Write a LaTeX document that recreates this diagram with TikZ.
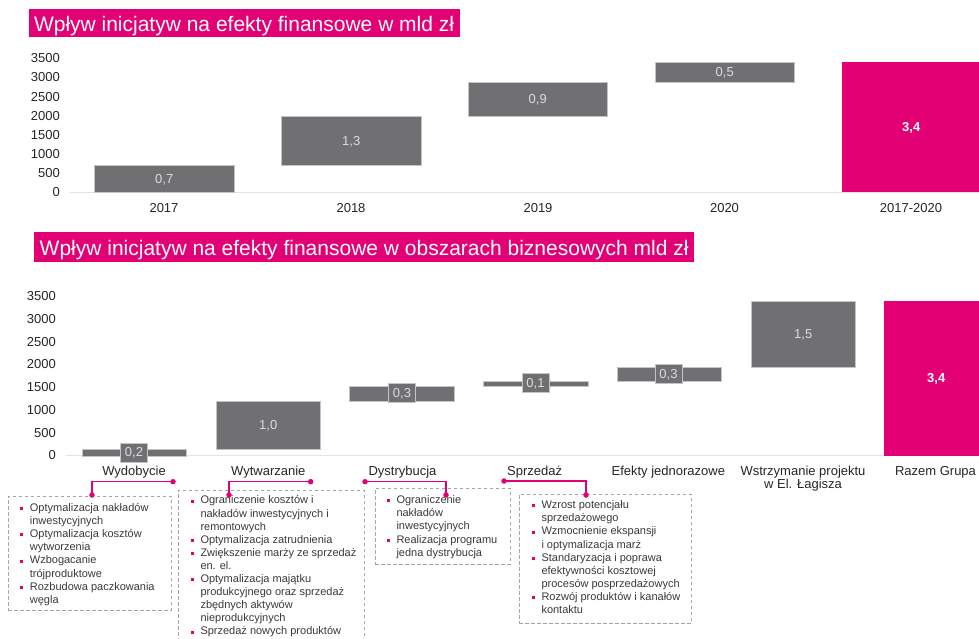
\documentclass[tikz,border=0pt]{standalone}
\usepackage{fontspec}
\setmainfont{Liberation Sans}

\definecolor{tpink}{HTML}{E20074}
\definecolor{bargray}{HTML}{707072}
\definecolor{baredge}{HTML}{C4C4C6}
\definecolor{valtext}{HTML}{DCDDE0}
\definecolor{axistext}{HTML}{262626}
\definecolor{axisgray}{HTML}{E4E4E4}
\definecolor{dashgray}{HTML}{A6A6A6}
\definecolor{notetext}{HTML}{3A3A3A}

% bullet and hanging indent for the note lists
\newcommand\nbul{\makebox[9.5pt][l]{\textcolor{tpink}{\rule[1.4pt]{3pt}{3pt}}}}
\newcommand\nind{\makebox[9.5pt]{}}

\tikzset{
  ttl/.style={fill=tpink, text=white, font=\fontsize{21}{24}\selectfont,
    inner xsep=5.5pt, inner ysep=0pt, anchor=base west},
  ylab/.style={font=\fontsize{13}{15}\selectfont, text=axistext, anchor=east,
    inner sep=0pt, text depth=0pt},
  catlab/.style={font=\fontsize{13}{13}\selectfont, text=axistext, anchor=base,
    inner sep=0pt, align=center},
  axisline/.style={draw=axisgray, line width=1pt},
  bar/.style={fill=bargray, draw=baredge, line width=0.5pt, anchor=north west,
    inner sep=0pt, font=\fontsize{13}{15}\selectfont, text=valtext, text depth=0pt},
  totbar/.style={fill=tpink, anchor=north west, inner sep=0pt,
    font=\fontsize{13}{15}\selectfont\bfseries, text=white, text depth=0pt},
  valbox/.style={fill=bargray, draw=baredge, line width=0.5pt, inner sep=0pt,
    minimum width=27pt, minimum height=19pt, font=\fontsize{13}{15}\selectfont,
    text=valtext, text depth=0pt},
  notebox/.style={draw=dashgray, dash pattern=on 3.5pt off 2.5pt, line width=0.7pt,
    anchor=north west, inner sep=0pt},
  notes/.style={font=\fontsize{11}{13.1}\selectfont, text=notetext, align=left,
    anchor=north west, inner sep=0pt},
  link/.style={draw=tpink, line width=1.1pt},
  linkdot/.style={circle, fill=tpink, inner sep=0pt, minimum size=5.5pt},
}

\begin{document}
\begin{tikzpicture}[x=1pt, y=-1pt]
\useasboundingbox (0,0) rectangle (979,639);
\fill[white] (0,0) rectangle (979,639);
\begin{scope}
\clip (0,0) rectangle (979,639);

% ---------- upper chart: effects per year ----------
\node[ttl, text height=22.2pt, text depth=5pt] (title1) at (28.3,31.7)
  {Wpływ inicjatyw na efekty finansowe w mld zł};

\node[ylab] (ya0) at (60,192.3) {0};
\node[ylab] (ya1) at (60,173.2) {500};
\node[ylab] (ya2) at (60,154.0) {1000};
\node[ylab] (ya3) at (60,134.9) {1500};
\node[ylab] (ya4) at (60,115.7) {2000};
\node[ylab] (ya5) at (60,96.6) {2500};
\node[ylab] (ya6) at (60,77.4) {3000};
\node[ylab] (ya7) at (60,58.3) {3500};

\draw[axisline] (70,192.3) -- (979,192.3);

\node[bar, minimum width=140pt, minimum height=26.8pt] (b17) at (94,165.5) {0,7};
\node[bar, minimum width=140pt, minimum height=49.8pt] (b18) at (281,115.7) {1,3};
\node[bar, minimum width=139pt, minimum height=33.7pt] (b19) at (468,82) {0,9};
\node[bar, minimum width=139pt, minimum height=20.3pt] (b20) at (655,61.7) {0,5};
\node[totbar, minimum width=138pt, minimum height=130.6pt] (b1720) at (842,61.7) {3,4};

\node[catlab] (c17) at (164,212) {2017};
\node[catlab] (c18) at (351,212) {2018};
\node[catlab] (c19) at (538,212) {2019};
\node[catlab] (c20) at (724.5,212) {2020};
\node[catlab] (c1720) at (911,212) {2017-2020};

% ---------- lower chart: effects per business area ----------
\node[ttl, text height=23.4pt, text depth=6pt] (title2) at (34,255.7)
  {Wpływ inicjatyw na efekty finansowe w obszarach biznesowych mld zł};

\node[ylab] (yb0) at (56,455.3) {0};
\node[ylab] (yb1) at (56,432.6) {500};
\node[ylab] (yb2) at (56,409.9) {1000};
\node[ylab] (yb3) at (56,387.2) {1500};
\node[ylab] (yb4) at (56,364.4) {2000};
\node[ylab] (yb5) at (56,341.7) {2500};
\node[ylab] (yb6) at (56,319.0) {3000};
\node[ylab] (yb7) at (56,296.3) {3500};

\draw[axisline] (66,455.7) -- (979,455.7);

\node[bar, minimum width=104pt, minimum height=6.4pt] (bwyd) at (82,449.3) {};
\node[bar, minimum width=104pt, minimum height=48.6pt] (bwyt) at (216,400.7) {1,0};
\node[bar, minimum width=105pt, minimum height=14.7pt] (bdys) at (349,386) {};
\node[bar, minimum width=105pt, minimum height=5pt] (bspr) at (483,381) {};
\node[bar, minimum width=104pt, minimum height=14.3pt] (bjed) at (617,366.7) {};
\node[bar, minimum width=104pt, minimum height=66pt] (blag) at (751,300.7) {1,5};
\node[totbar, minimum width=104pt, minimum height=155pt] (bgrp) at (884,300.7) {3,4};

\node[valbox] (vwyd) at (134,452.3) {0,2};
\node[valbox] (vdys) at (402,392.5) {0,3};
\node[valbox] (vspr) at (535.5,382.5) {0,1};
\node[valbox] (vjed) at (668.5,373.7) {0,3};

\node[catlab] (kwyd) at (134,475.5) {Wydobycie};
\node[catlab] (kwyt) at (268.3,475.5) {Wytwarzanie};
\node[catlab] (kdys) at (402.5,475.5) {Dystrybucja};
\node[catlab] (kspr) at (534.7,475.5) {Sprzedaż};
\node[catlab] (kjed) at (668.3,475.5) {Efekty jednorazowe};
\node[catlab, anchor=north] (klag) at (803,466) {Wstrzymanie projektu\\w El. Łagisza};
\node[catlab] (kgrp) at (935.5,475.5) {Razem Grupa};

% ---------- note boxes with the initiatives ----------
\node[notebox, minimum width=163pt, minimum height=114pt] (nwyd) at (8,496) {};
\node[notebox, minimum width=186pt, minimum height=170pt] (nwyt) at (178,490) {};
\node[notebox, minimum width=135pt, minimum height=76pt] (ndys) at (375,488) {};
\node[notebox, minimum width=172pt, minimum height=129pt] (nspr) at (519,494) {};

\node[notes] (twyd) at (20.2,503.2) {%
\nbul Optymalizacja nakładów\\
\nind inwestycyjnych\\
\nbul Optymalizacja kosztów\\
\nind wytworzenia\\
\nbul Wzbogacanie\\
\nind trójproduktowe\\
\nbul Rozbudowa paczkowania\\
\nind węgla};

\node[notes] (twyt) at (190.8,495.6) {%
\nbul Ograniczenie kosztów i\\
\nind nakładów inwestycyjnych i\\
\nind remontowych\\
\nbul Optymalizacja zatrudnienia\\
\nbul Zwiększenie marży ze sprzedaż\\
\nind en. el.\\
\nbul Optymalizacja majątku\\
\nind produkcyjnego oraz sprzedaż\\
\nind zbędnych aktywów\\
\nind nieprodukcyjnych\\
\nbul Sprzedaż nowych produktów};

\node[notes] (tdys) at (386.8,495.6) {%
\nbul Ograniczenie\\
\nind nakładów\\
\nind inwestycyjnych\\
\nbul Realizacja programu\\
\nind jedna dystrybucja};

\node[notes] (tspr) at (531.8,500.6) {%
\nbul Wzrost potencjału\\
\nind sprzedażowego\\
\nbul Wzmocnienie ekspansji\\
\nind i optymalizacja marż\\
\nbul Standaryzacja i poprawa\\
\nind efektywności kosztowej\\
\nind procesów posprzedażowych\\
\nbul Rozwój produktów i kanałów\\
\nind kontaktu};

% ---------- pink leader lines from the categories to the notes ----------
\node[linkdot] (lwydA) at (173,481.7) {};
\node[linkdot] (lwydB) at (92,495) {};
\node[linkdot] (lwytA) at (310.7,481.7) {};
\node[linkdot] (lwytB) at (229,495) {};
\node[linkdot] (ldysA) at (365,481.7) {};
\node[linkdot] (ldysB) at (446,495) {};
\node[linkdot] (lsprA) at (504,481) {};
\node[linkdot] (lsprB) at (586,495) {};

\draw[link] (lwydA.center) -| (lwydB.center);
\draw[link] (lwytA.center) -| (lwytB.center);
\draw[link] (ldysA.center) -| (ldysB.center);
\draw[link] (lsprA.center) -| (lsprB.center);

\end{scope}
\end{tikzpicture}
\end{document}
